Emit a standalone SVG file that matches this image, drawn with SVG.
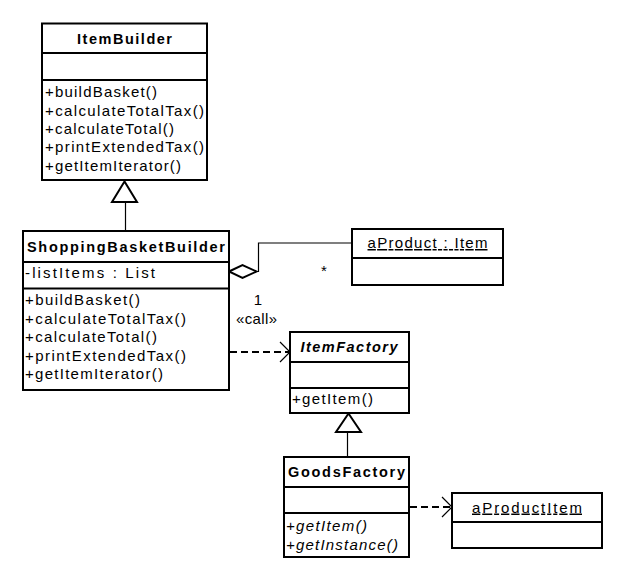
<svg xmlns="http://www.w3.org/2000/svg" width="627" height="576" viewBox="0 0 627 576">
<style>
  .box { fill: #fff; stroke: #000; stroke-width: 2; }
  .sep { stroke: #000; stroke-width: 2; }
  text { font-family: "Liberation Sans", Arial, sans-serif; font-size: 15px; fill: #000; }
  .name { font-weight: bold; text-anchor: middle; font-size: 14.5px; }
  .it { font-style: italic; }
  .obj { text-anchor: middle; text-decoration: underline; }
  .line { fill: none; stroke: #000; stroke-width: 1.2; }
  .dash { fill: none; stroke: #000; stroke-width: 2; stroke-dasharray: 7 4; }
  .head { fill: none; stroke: #000; stroke-width: 1.2; }
  .tri { fill: #fff; stroke: #000; stroke-width: 2; }
</style>
<rect width="627" height="576" fill="#fff"/>

<g id="connectors">
  <!-- generalization ShoppingBasketBuilder -> ItemBuilder -->
  <line class="line" x1="125.5" y1="202" x2="125.5" y2="231"/>
  <polygon class="tri" points="124.5,181.5 112,202 137,202"/>
  <!-- aggregation -->
  <polyline class="line" points="256.5,271.5 258.5,271.5 258.5,243 352,243"/>
  <polygon class="tri" points="229,271.5 242.5,265 256.5,271.5 242.5,278"/>
  <text x="324" y="276" text-anchor="middle">*</text>
  <text x="258" y="305" text-anchor="middle">1</text>
  <text x="256.5" y="324" text-anchor="middle" textLength="41" lengthAdjust="spacing">«call»</text>
  <!-- dependency SBB -> ItemFactory -->
  <line class="dash" x1="230" y1="352" x2="289" y2="352"/>
  <polyline class="head" points="280,342 290,352 280,362"/>
  <!-- generalization GoodsFactory -> ItemFactory -->
  <line class="line" x1="347.5" y1="432" x2="347.5" y2="457"/>
  <polygon class="tri" points="348.5,413.5 336,432 361,432"/>
  <!-- dependency GoodsFactory -> aProductItem -->
  <line class="dash" x1="410" y1="507" x2="451" y2="507"/>
  <polyline class="head" points="442,497 452,507 442,517"/>
</g>

<g id="ItemBuilder">
  <rect class="box" x="42" y="23.5" width="165" height="156.5"/>
  <line class="sep" x1="42" y1="53" x2="207" y2="53"/>
  <line class="sep" x1="42" y1="80" x2="207" y2="80"/>
  <text class="name" x="124.5" y="43.5" textLength="95" lengthAdjust="spacing">ItemBuilder</text>
  <text x="45" y="97.3" textLength="112" lengthAdjust="spacing">+buildBasket()</text>
  <text x="45" y="115.7" textLength="159" lengthAdjust="spacing">+calculateTotalTax()</text>
  <text x="45" y="134" textLength="129" lengthAdjust="spacing">+calculateTotal()</text>
  <text x="45" y="152.3" textLength="159" lengthAdjust="spacing">+printExtendedTax()</text>
  <text x="45" y="170.7" textLength="136" lengthAdjust="spacing">+getItemIterator()</text>
</g>

<g id="ShoppingBasketBuilder">
  <rect class="box" x="23" y="231" width="206" height="159"/>
  <line class="sep" x1="23" y1="262" x2="229" y2="262"/>
  <line class="sep" x1="23" y1="288.5" x2="229" y2="288.5"/>
  <text class="name" x="126" y="252" textLength="198" lengthAdjust="spacing">ShoppingBasketBuilder</text>
  <text x="25" y="277.5" textLength="130" lengthAdjust="spacing">-listItems : List</text>
  <text x="25" y="305" textLength="115" lengthAdjust="spacing">+buildBasket()</text>
  <text x="25" y="323.5" textLength="161" lengthAdjust="spacing">+calculateTotalTax()</text>
  <text x="25" y="342" textLength="132" lengthAdjust="spacing">+calculateTotal()</text>
  <text x="25" y="360.5" textLength="161" lengthAdjust="spacing">+printExtendedTax()</text>
  <text x="25" y="379" textLength="138" lengthAdjust="spacing">+getItemIterator()</text>
</g>

<g id="aProduct">
  <rect class="box" x="352" y="229" width="151" height="56"/>
  <line class="sep" x1="352" y1="258" x2="503" y2="258"/>
  <text class="obj" x="427.5" y="248" textLength="120" lengthAdjust="spacing">aProduct : Item</text>
</g>

<g id="ItemFactory">
  <rect class="box" x="290" y="332" width="119" height="81"/>
  <line class="sep" x1="290" y1="362" x2="409" y2="362"/>
  <line class="sep" x1="290" y1="388" x2="409" y2="388"/>
  <text class="name it" x="349" y="352" textLength="97" lengthAdjust="spacing">ItemFactory</text>
  <text x="292" y="404" textLength="81" lengthAdjust="spacing">+getItem()</text>
</g>

<g id="GoodsFactory">
  <rect class="box" x="284" y="457" width="125" height="100"/>
  <line class="sep" x1="284" y1="487" x2="409" y2="487"/>
  <line class="sep" x1="284" y1="513" x2="409" y2="513"/>
  <text class="name" x="346.5" y="477" textLength="117" lengthAdjust="spacing">GoodsFactory</text>
  <text class="it" x="286" y="531" textLength="81" lengthAdjust="spacing">+getItem()</text>
  <text class="it" x="286" y="550" textLength="112" lengthAdjust="spacing">+getInstance()</text>
</g>

<g id="aProductItem">
  <rect class="box" x="452" y="493" width="150" height="55"/>
  <line class="sep" x1="452" y1="522" x2="602" y2="522"/>
  <text class="obj" x="527" y="512.5" textLength="110" lengthAdjust="spacing">aProductItem</text>
</g>
</svg>
